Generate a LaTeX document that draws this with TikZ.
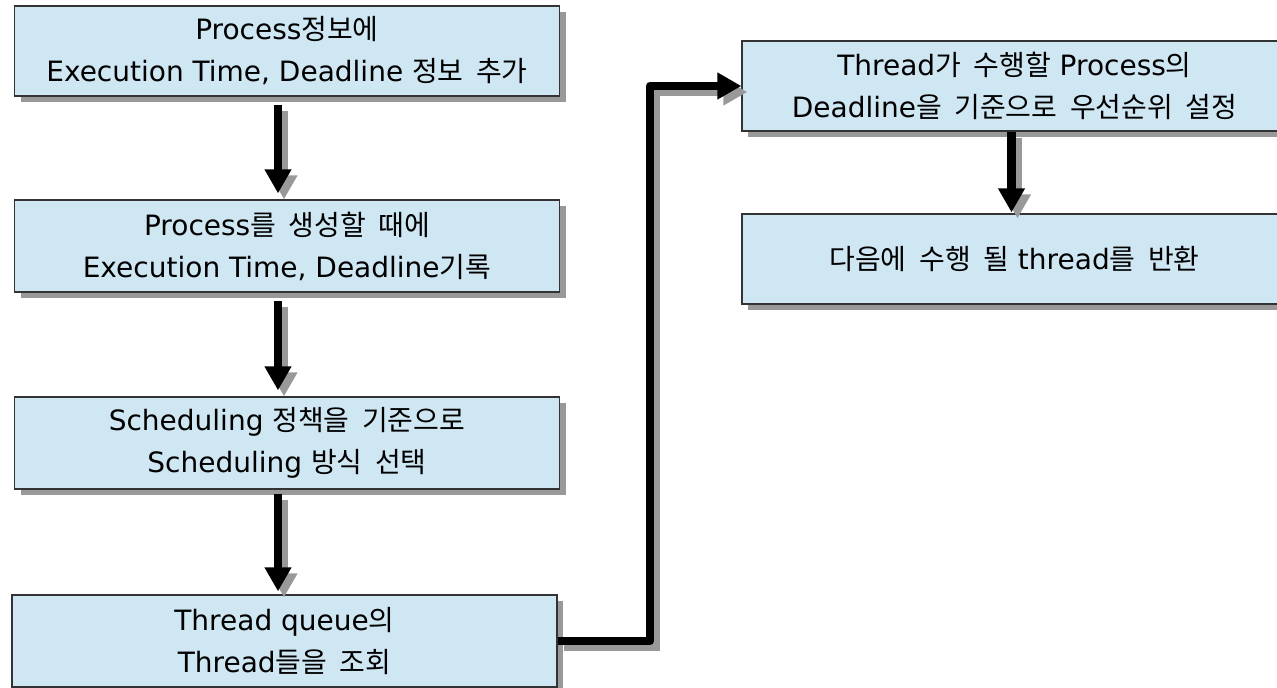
\documentclass[tikz,border=0pt]{standalone}
\usepackage{fontspec}
\setmainfont{DejaVu Sans}
\newfontfamily\krfont[Scale=1.0,WordSpace=2.0]{Noto Sans CJK KR}
\newcommand\kr[1]{{\krfont #1}}
\usetikzlibrary{arrows.meta,shadows}
\definecolor{boxfill}{HTML}{CFE6F3}
\definecolor{boxline}{HTML}{333333}
\definecolor{shade}{HTML}{999999}

\begin{document}
\begin{tikzpicture}[x=0.75pt,y=-0.75pt,
  stepbox/.style={draw=boxline, line width=0.9pt, fill=boxfill, align=center,
    font=\fontsize{21}{31.5}\selectfont, inner sep=0pt,
    minimum width=408.75pt, minimum height=#1*0.75pt,
    drop shadow={shadow xshift=4.5pt, shadow yshift=-4.5pt, fill=shade, opacity=1}},
  stepbox/.default=90,
  flow/.style={line width=6.3pt, line join=round,
    -{Triangle[length=18pt,width=19pt]},
    preaction={draw=shade, line width=6.3pt,
      -{Triangle[length=18pt,width=19pt]},
      transform canvas={shift={(4.5pt,-4.5pt)}}}}]
\useasboundingbox (0,0) rectangle (1277,688);

% left column
\node[stepbox] (b1) at (287,51)
  {Process\kr{정보에}\\Execution Time, Deadline \kr{정보 추가}};
\node[stepbox=92] (b2) at (287,246)
  {Process\kr{를 생성할 때에}\\Execution Time, Deadline\kr{기록}};
\node[stepbox=92] (b3) at (287,443)
  {Scheduling \kr{정책을 기준으로}\\Scheduling \kr{방식 선택}};
\node[stepbox=92] (b4) at (284.5,641)
  {Thread queue\kr{의}\\Thread\kr{들을 조회}};

% right column
\node[stepbox] (b5) at (1014.5,86)
  {Thread\kr{가 수행할} Process\kr{의}\\Deadline\kr{을 기준으로 우선순위 설정}};
\node[stepbox] (b6) at (1014.5,259)
  {\kr{다음에 수행 될} thread\kr{를 반환}};

\coordinate (turn) at (650,86);

% connectors
\draw[flow] ([shift={(-9,8)}]b1.south) -- ([shift={(-9,-6)}]b2.north);
\draw[flow] ([shift={(-9,8)}]b2.south) -- ([shift={(-9,-6)}]b3.north);
\draw[flow] ([shift={(-9,4)}]b3.south) -- ([shift={(-6.5,-3)}]b4.north);
\draw[flow] (b4.east) -| (turn) -- (b5.west);
\draw[flow] ([shift={(-3,0)}]b5.south) -- ([shift={(-3,-1)}]b6.north);
\end{tikzpicture}
\end{document}
